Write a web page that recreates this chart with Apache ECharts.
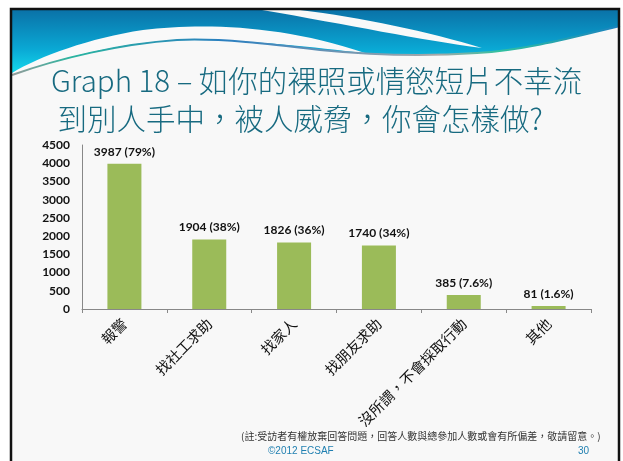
<!DOCTYPE html>
<html>
<head>
<meta charset="utf-8">
<script src="https://cdn.jsdelivr.net/npm/echarts@6/dist/echarts.min.js"></script>
<style>
  html, body { margin: 0; padding: 0; background: #fff; }
  #main { width: 623px; height: 461px; }
</style>
</head>
<body>
<div id="main"></div>
<script>
// data
const categories = ['報警', '找社工求助', '找家人', '找朋友求助', '沒所謂，不會採取行動', '其他'];
const counts = [3987, 1904, 1826, 1740, 385, 81];
const percents = ['79%', '38%', '36%', '34%', '7.6%', '1.6%'];
const yTicks = [0, 500, 1000, 1500, 2000, 2500, 3000, 3500, 4000, 4500];

const titleLines = ['Graph 18 – 如你的裸照或情慾短片不幸流', ' 到別人手中，被人威脅，你會怎樣做?'];
const footnote = '(註:受訪者有權放棄回答問題，回答人數與總參加人數或會有所偏差，敬請留意。)';

const cjk = '"Noto Sans CJK TC", "Noto Sans CJK SC", sans-serif';

// header wave shapes (slide decoration only)
echarts.graphic.registerShape('waveBand', echarts.graphic.extendPath(
  'M12 10 L620 10 L620 26 C 585 34, 530 50, 477 53 C 420 57, 360 54, 320 50 C 270 44, 220 38, 177 40 C 120 44, 60 58, 12 75 Z', {}));
echarts.graphic.registerShape('waveCrescent', echarts.graphic.extendPath(
  'M12 73 C 40 56, 90 38, 143 30 C 200 23, 280 24, 365 53 C 310 47, 250 39, 177 40 C 120 43, 60 58, 12 75 Z', {}));
echarts.graphic.registerShape('waveStreak', echarts.graphic.extendPath(
  'M262 10 L300 10 C 360 17, 430 32, 482 48 C 420 40, 350 25, 262 10 Z', {}));
echarts.graphic.registerShape('waveLine', echarts.graphic.extendPath(
  'M12 75 C 60 58, 120 44, 177 40 C 220 38, 270 44, 320 50 C 360 54, 420 57, 477 53 C 530 50, 585 34, 620 26', {}));

const myChart = echarts.init(document.getElementById('main'));

const decor = [
  { type: 'rect', shape: { x: 12, y: 10, width: 607, height: 460 }, style: { fill: '#f8f8f8' }, z: -10 },
  {
    type: 'waveBand', z: -9,
    style: {
      fill: new echarts.graphic.LinearGradient(0, 0, 0, 1, [
        { offset: 0, color: '#0a72a8' },
        { offset: 0.6, color: '#0aa8d4' },
        { offset: 1, color: '#14dcee' }
      ])
    }
  },
  { type: 'waveCrescent', z: -8, style: { fill: '#f9f9f9' } },
  { type: 'waveStreak', z: -8, style: { fill: '#f9f9f9' } },
  {
    type: 'waveLine', z: -7,
    style: {
      fill: null, lineWidth: 2,
      stroke: new echarts.graphic.LinearGradient(0, 0, 1, 0, [
        { offset: 0, color: '#9a9a9a' },
        { offset: 0.1, color: '#2bb5a0' },
        { offset: 0.35, color: '#2a7fc0' },
        { offset: 0.7, color: '#a8a8a8' },
        { offset: 0.8, color: '#30c0a0' },
        { offset: 1, color: '#1a80c0' }
      ])
    }
  },
  { type: 'rect', shape: { x: 11, y: 9, width: 608, height: 470 }, style: { fill: null, stroke: '#111', lineWidth: 2.5 }, z: 50 },
  {
    type: 'text', left: 241, top: 431,
    style: { text: footnote, font: '10px ' + cjk, fill: '#333' }
  },
  {
    type: 'text', left: 268, top: 446,
    style: { text: '©2012 ECSAF', font: '10px "Liberation Sans", Arial, sans-serif', fill: '#1f7fb0' }
  },
  {
    type: 'text', left: 578, top: 446,
    style: { text: '30', font: '10px "Liberation Sans", Arial, sans-serif', fill: '#1f7fb0' }
  }
];

const option = {
  animation: false,
  backgroundColor: '#ffffff',
  title: {
    text: titleLines.join('\n'),
    left: 46,
    top: 57,
    textStyle: {
      fontFamily: cjk,
      fontSize: 29.5,
      fontWeight: 300,
      lineHeight: 38,
      color: '#176a80'
    }
  },
  graphic: decor,
  grid: { left: 82, right: 32, top: 145, bottom: 152, containLabel: false },
  xAxis: {
    type: 'category',
    data: categories,
    axisLine: { lineStyle: { color: '#888', width: 1 } },
    axisTick: { show: true, length: 4, lineStyle: { color: '#888' } },
    axisLabel: {
      rotate: 45,
      margin: 12,
      fontFamily: cjk,
      fontSize: 14.5,
      color: '#111'
    }
  },
  yAxis: {
    type: 'value',
    min: yTicks[0],
    max: yTicks[yTicks.length - 1],
    interval: 500,
    axisLine: { show: true, lineStyle: { color: '#888' } },
    axisTick: { show: false },
    splitLine: { show: false },
    axisLabel: {
      margin: 12,
      fontFamily: 'Lato, "Open Sans", sans-serif',
      fontWeight: 'bold',
      fontSize: 12,
      color: '#111',
      formatter: v => String(v)
    }
  },
  series: [
    {
      type: 'bar',
      data: counts,
      barWidth: 34,
      itemStyle: { color: '#9bbb59' },
      label: {
        show: true,
        position: 'top',
        distance: 6,
        fontFamily: 'Lato, "Open Sans", sans-serif',
        fontWeight: 'bold',
        fontSize: 12,
        color: '#111',
        formatter: p => counts[p.dataIndex] + ' (' + percents[p.dataIndex] + ')'
      }
    }
  ]
};

myChart.setOption(option);
</script>
</body>
</html>
